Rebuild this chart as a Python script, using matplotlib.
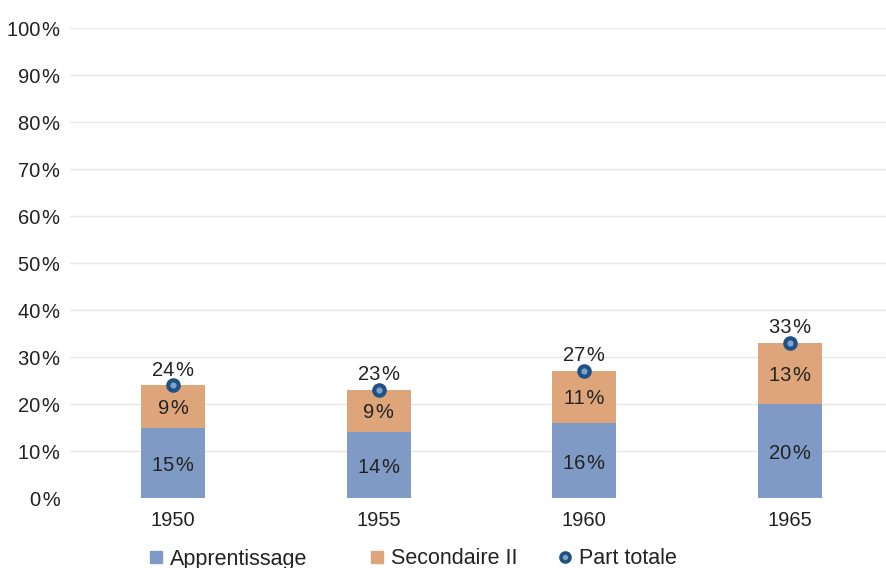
import matplotlib
matplotlib.use("Agg")
import matplotlib.pyplot as plt
from matplotlib.lines import Line2D
import numpy as np

plt.rcParams['font.family'] = ['Liberation Sans', 'DejaVu Sans']

years = ["1950", "1955", "1960", "1965"]
apprentissage = [15, 14, 16, 20]
secondaire = [9, 9, 11, 13]
totale = [24, 23, 27, 33]
yticks = [0, 10, 20, 30, 40, 50, 60, 70, 80, 90, 100]
legend_labels = ["Apprentissage", "Secondaire II", "Part totale"]

c_app = "#7f9bc5"
c_sec = "#dea57b"
c_dot = "#1f5282"
txt = "#222222"
sp = "\u200a"
fs = 14.5
lfs = 15.5

W, H = 886, 568
fig = plt.figure(figsize=(W / 100, H / 100), dpi=100)
ax = fig.add_axes([0.0790, 0.1232, 0.9210, 0.8275])

x = np.arange(len(years))
w = 0.311
ax.bar(x, apprentissage, w, color=c_app, zorder=2)
ax.bar(x, secondaire, w, bottom=apprentissage, color=c_sec, zorder=2)
ax.plot(x, totale, linestyle="none", marker="o", markersize=7.5,
        markerfacecolor="#7fa3c8", markeredgecolor=c_dot, markeredgewidth=3.0, zorder=4)

for xi, a, s, t in zip(x, apprentissage, secondaire, totale):
    ax.text(xi, a / 2 - 0.6, f"{a}{sp}%", ha="center", va="center", fontsize=fs, color=txt, zorder=5)
    ax.text(xi, a + s / 2 - 0.4, f"{s}{sp}%", ha="center", va="center", fontsize=fs, color=txt, zorder=5)
    ax.text(xi, t + 1.2, f"{t}{sp}%", ha="center", va="bottom", fontsize=fs, color=txt, zorder=5)

ax.set_xlim(-0.501, 3.467)
ax.set_ylim(0, 100)
ax.set_yticks(yticks)
ax.set_yticklabels([f"{v}{sp}%" for v in yticks])
ax.set_xticks(x)
ax.set_xticklabels(years)
ax.tick_params(axis="both", length=0, labelsize=fs, labelcolor=txt)
ax.tick_params(axis="y", pad=7)
ax.tick_params(axis="x", pad=9.5)
ax.grid(axis="y", color="#e6e6e6", linewidth=1, zorder=0)
for s in ax.spines.values():
    s.set_visible(False)

handles = [
    Line2D([], [], linestyle="none", marker="s", markersize=8.3, markerfacecolor=c_app, markeredgecolor=c_app),
    Line2D([], [], linestyle="none", marker="s", markersize=8.3, markerfacecolor=c_sec, markeredgecolor=c_sec),
    Line2D([], [], linestyle="none", marker="o", markersize=6.5, markerfacecolor="#7fa3c8",
           markeredgecolor=c_dot, markeredgewidth=2.6),
]
# legend entries placed like the reference's fixed-width legend slots
hl = 0.8
handle_half_px = hl * lfs * 100 / 72 / 2
centers_px = [156, 377, 565]
ly = 1 - 559 / H
for h, lab, cx in zip(handles, legend_labels, centers_px):
    fig.legend([h], [lab], loc="center left",
               bbox_to_anchor=((cx - handle_half_px) / W, ly),
               frameon=False, fontsize=lfs, borderpad=0, borderaxespad=0,
               handletextpad=0.25, handlelength=hl, labelcolor=txt)

fig.savefig("out.png", dpi=100)
